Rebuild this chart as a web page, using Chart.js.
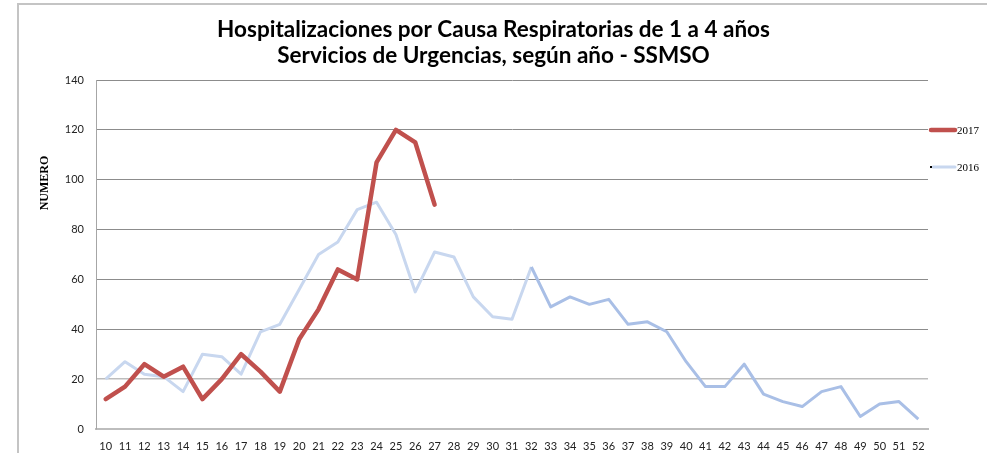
<!DOCTYPE html>
<html>
<head>
<meta charset="utf-8">
<script src="https://cdn.jsdelivr.net/npm/chart.js@4.4.0/dist/chart.umd.min.js"></script>
<style>
    html, body { margin: 0; padding: 0; background: #fff; }
    #wrap { position: relative; width: 987px; height: 453px; overflow: hidden; }
    #frame { position: absolute; left: 17px; top: 3px; width: 1000px; height: 500px; border: 2px solid #c4c4c4; box-sizing: border-box; }
    #chart { position: absolute; left: 0; top: 0; }
</style>
</head>
<body>
<div id="wrap">
    <div id="frame"></div>
    <canvas id="chart" width="987" height="453"></canvas>
</div>
<script>
const weeks = ["10", "11", "12", "13", "14", "15", "16", "17", "18", "19", "20", "21", "22", "23", "24", "25", "26", "27", "28", "29", "30",
    "31", "32", "33", "34", "35", "36", "37", "38", "39", "40", "41", "42", "43", "44", "45", "46", "47", "48", "49", "50", "51", "52"];

const values2017 = [12, 17, 26, 21, 25, 12, 20, 30, 23, 15, 36, 48, 64, 60, 107, 120, 115, 90];

const values2016 = [20, 27, 22, 21, 15, 30, 29, 22, 39, 42, 56, 70, 75, 88, 91, 78, 55, 71, 69, 53, 45,
    44, 65, 49, 53, 50, 52, 42, 43, 39, 27, 17, 17, 26, 14, 11, 9, 15, 17, 5, 10, 11, 4];

const yTicks = [0, 20, 40, 60, 80, 100, 120, 140];

const titleLines = ["Hospitalizaciones por Causa Respiratorias de 1 a 4 años", "Servicios de Urgencias, según año - SSMSO"];

// leyenda a la derecha, dibujada a mano para copiar la posición original
const sideLegend = {
    id: "sideLegend",
    afterDraw(chart) {
        const { ctx, chartArea } = chart;
        ctx.save();
        ctx.font = "11px 'Liberation Serif'";
        ctx.textBaseline = "middle";
        chart.data.datasets.forEach((ds, i) => {
            const y = chartArea.top + 50 + i * 37;
            const x0 = chartArea.right + 2;
            ctx.strokeStyle = ds.legendColor || ds.borderColor;
            ctx.lineWidth = ds.borderWidth;
            ctx.lineCap = "round";
            ctx.beginPath();
            ctx.moveTo(x0 + (i === 1 ? 3 : 1), y);
            ctx.lineTo(x0 + 25, y);
            ctx.stroke();
            if (i === 1) {
                ctx.fillStyle = "#000";
                ctx.fillRect(x0, y - 1, 2, 2);
            }
            ctx.fillStyle = "#000";
            ctx.fillText(ds.label, x0 + 27, y + 1);
        });
        ctx.restore();
    }
};

const yAxisLabel = {
    id: "yAxisLabel",
    afterDraw(chart) {
        const { ctx, chartArea } = chart;
        ctx.save();
        ctx.translate(chartArea.left - 51, chartArea.top + 103);
        ctx.rotate(-Math.PI / 2);
        ctx.font = "bold 12px 'Liberation Serif'";
        ctx.fillStyle = "#000";
        ctx.textAlign = "center";
        ctx.textBaseline = "middle";
        ctx.fillText("NUMERO", 0, 0);
        ctx.restore();
    }
};

const ctx = document.getElementById("chart").getContext("2d");
new Chart(ctx, {
    type: "line",
    data: {
        labels: weeks,
        datasets: [{
            label: "2017",
            data: values2017,
            borderColor: "#c0504d",
            borderWidth: 4.5,
            pointRadius: 0,
            tension: 0,
            borderJoinStyle: "round",
            borderCapStyle: "round",
            fill: false
        }, {
            label: "2016",
            data: values2016,
            borderColor: "#c8d7ef",
            legendColor: "#c8d7ef",
            borderWidth: 3,
            pointRadius: 0,
            tension: 0,
            borderJoinStyle: "round",
            fill: false,
            segment: {
                borderColor: (c) => c.p0DataIndex >= 22 ? "#a9bfe6" : "#c8d7ef"
            }
        }]
    },
    options: {
        responsive: false,
        animation: false,
        layout: { padding: { left: 59, right: 59, top: 0, bottom: 0 } },
        plugins: {
            legend: { display: false },
            tooltip: { enabled: false },
            title: {
                display: true,
                text: titleLines,
                color: "#000",
                font: { family: "Lato", size: 22.5, weight: "bold", lineHeight: 1.156 },
                padding: { top: 17, bottom: 11 }
            }
        },
        scales: {
            x: {
                offset: true,
                grid: { display: false, drawTicks: false },
                border: { display: true, color: "#bdbdbd", width: 2 },
                ticks: {
                    autoSkip: false,
                    maxRotation: 0,
                    padding: 11,
                    color: "#222",
                    font: { family: "Lato", size: 11 }
                },
                afterFit(scale) { scale.height = 24; }
            },
            y: {
                min: 0,
                max: 140,
                afterBuildTicks(scale) { scale.ticks = yTicks.map((v) => ({ value: v })); },
                grid: {
                    drawTicks: false,
                    tickLength: 0,
                    color: (c) => c.tick.value <= 20 ? "#bdbdbd" : "#8c8c8c",
                    lineWidth: (c) => c.tick.value <= 20 ? 1.5 : 1
                },
                border: { display: true, color: "#a6a6a6", width: 1 },
                ticks: {
                    padding: 12,
                    color: "#222",
                    font: { family: "Lato", size: 11 }
                },
                afterFit(scale) { scale.width = 37; }
            }
        }
    },
    plugins: [sideLegend, yAxisLabel]
});
</script>
</body>
</html>
